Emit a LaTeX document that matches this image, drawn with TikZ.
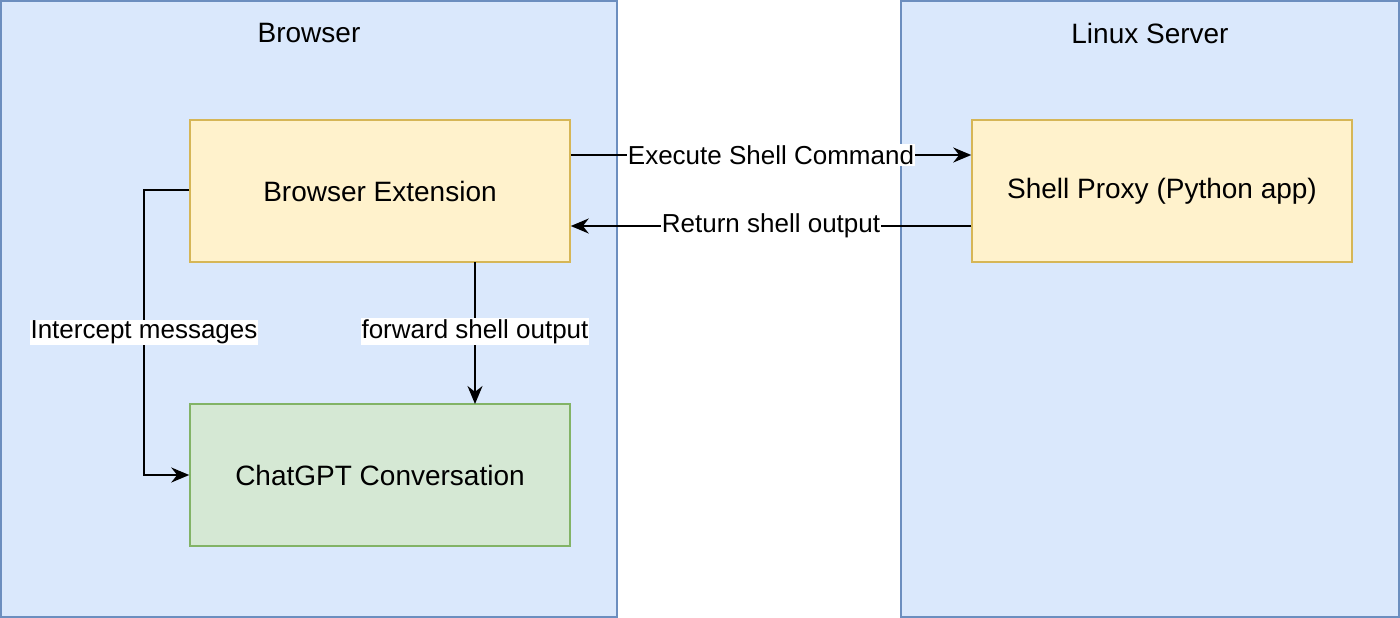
\documentclass[tikz,border=0pt]{standalone}
\usepackage{fontspec}
\setmainfont{Liberation Sans}
\usetikzlibrary{arrows.meta}
\definecolor{bfill}{HTML}{DAE8FC}\definecolor{bline}{HTML}{6C8EBF}
\definecolor{yfill}{HTML}{FFF2CC}\definecolor{yline}{HTML}{D6B656}
\definecolor{gfill}{HTML}{D5E8D4}\definecolor{gline}{HTML}{82B366}
\begin{document}
\begin{tikzpicture}[x=1pt,y=-1pt,
  cont/.style={draw=bline,fill=bfill,line width=1.5pt},
  box/.style={draw=#1line,fill=#1fill,line width=1.5pt,minimum width=380pt,minimum height=142pt,font=\fontsize{28}{32}\selectfont,inner sep=0pt},
  lab/.style={fill=white,font=\fontsize{26}{30}\selectfont,inner sep=1pt},
  arr/.style={line width=2pt,-{Stealth[length=18pt,width=15pt]}}]
\useasboundingbox (0,0) rectangle (1400,618);
\draw[cont] (1,1) rectangle (617,617);
\draw[cont] (901,1) rectangle (1399,617);
\node[font=\fontsize{28}{32}\selectfont] (t1) at (309,33) {Browser};
\node[font=\fontsize{28}{32}\selectfont] (t2) at (1150,33) {Linux Server};
\node[box=y] (be) at (380,191) {Browser Extension};
\node[box=g] (cg) at (380,475) {ChatGPT Conversation};
\node[box=y] (sp) at (1162,191) {Shell Proxy (Python app)};
\draw[arr] (be.east|-0,155) -- node[lab]{Execute Shell Command} (sp.west|-0,155);
\draw[arr] (sp.west|-0,226) -- node[lab]{Return shell output} (be.east|-0,226);
\draw[arr] (475,262) -- node[lab,pos=0.49]{forward shell output} (475,404);
\coordinate (c1) at (144,190);
\coordinate (c2) at (144,475);
\draw[arr] (be.west|-0,190) -- (c1) -- node[lab,pos=0.5]{Intercept messages} (c2) -- (cg.west);
\end{tikzpicture}
\end{document}
